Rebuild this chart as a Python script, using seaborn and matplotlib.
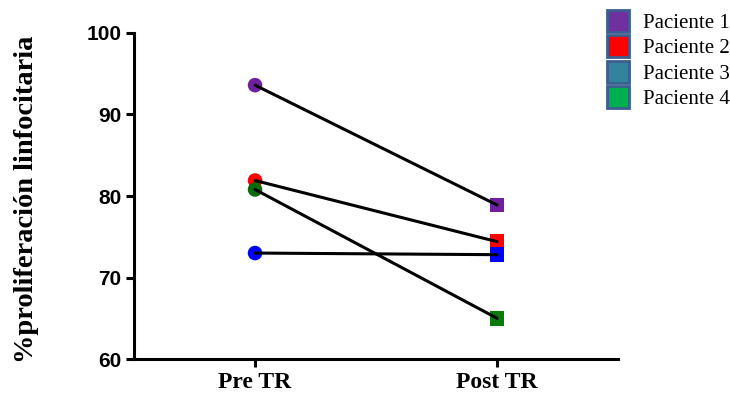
import matplotlib
matplotlib.use("Agg")
import matplotlib.pyplot as plt
from matplotlib.lines import Line2D
import seaborn as sns
import pandas as pd

patients = ["Paciente 1", "Paciente 2", "Paciente 3", "Paciente 4"]
timepoints = ["Pre TR", "Post TR"]
pre_values = [93.6, 81.9, 73.0, 80.8]
post_values = [78.9, 74.4, 72.8, 65.0]
pre_colors = ["#70209F", "#FF0000", "#0000FF", "#0B6B0B"]
post_colors = ["#70209F", "#FF0000", "#0000FF", "#0A7A0A"]
legend_colors = ["#7030A0", "#FF0000", "#31849B", "#00B050"]
y_ticks = [60, 70, 80, 90, 100]

rows = []
for p, a, b in zip(patients, pre_values, post_values):
    rows.append({"patient": p, "pos": 0, "value": a})
    rows.append({"patient": p, "pos": 1, "value": b})
df = pd.DataFrame(rows)

sns.set_style("ticks")
plt.rcParams.update({"text.color": "black", "axes.labelcolor": "black",
                     "xtick.color": "black", "ytick.color": "black",
                     "xtick.labelcolor": "black", "ytick.labelcolor": "black"})
fig = plt.figure(figsize=(7.30, 3.96), dpi=100)
ax = fig.add_axes([0.1836, 0.0934, 0.663, 0.8233])

sns.lineplot(data=df, x="pos", y="value", units="patient", estimator=None,
             color="black", linewidth=2.2, ax=ax, legend=False, zorder=3)

pre_df = df[df["pos"] == 0]
post_df = df[df["pos"] == 1]
sns.scatterplot(data=pre_df, x="pos", y="value", hue="patient", palette=pre_colors,
                marker="o", s=110, linewidth=0, ax=ax, legend=False, zorder=2)
sns.scatterplot(data=post_df, x="pos", y="value", hue="patient", palette=post_colors,
                marker="s", s=110, linewidth=0, ax=ax, legend=False, zorder=2)

ax.set_xlim(-0.5, 1.5)
ax.set_ylim(60, 100)
ax.set_yticks(y_ticks)
ax.set_xticks([0, 1])
ax.set_xticklabels(timepoints, fontfamily="Liberation Serif", fontweight="bold",
                   fontsize=17, color="black")
ax.set_yticklabels([str(t) for t in y_ticks], fontfamily="Liberation Sans",
                   fontweight="bold", fontsize=15, color="black")
ax.set_xlabel("")
ax.set_ylabel("%proliferación linfocitaria", fontfamily="Liberation Serif",
              fontweight="bold", fontsize=20.5, color="black")
ax.yaxis.set_label_coords(-0.196, 0.49)
sns.despine(ax=ax)
for s in ["left", "bottom"]:
    ax.spines[s].set_linewidth(2.2)
    ax.spines[s].set_color("black")
ax.tick_params(axis="both", width=2.2, length=6, color="black", pad=3)
ax.patch.set_alpha(0)

handles = [Line2D([], [], marker="s", linestyle="none", markersize=16,
                  markerfacecolor=c, markeredgecolor="#3B5F8F", markeredgewidth=2)
           for c in legend_colors]
leg = fig.legend(handles, patients, loc="upper left", bbox_to_anchor=(0.818, 0.987),
                 frameon=False, prop={"family": "Liberation Serif", "size": 15},
                 handletextpad=0.6, labelspacing=0.28, handlelength=1.2, borderaxespad=0.0)
for t in leg.get_texts():
    t.set_color("black")

fig.savefig("out.png", dpi=100)
